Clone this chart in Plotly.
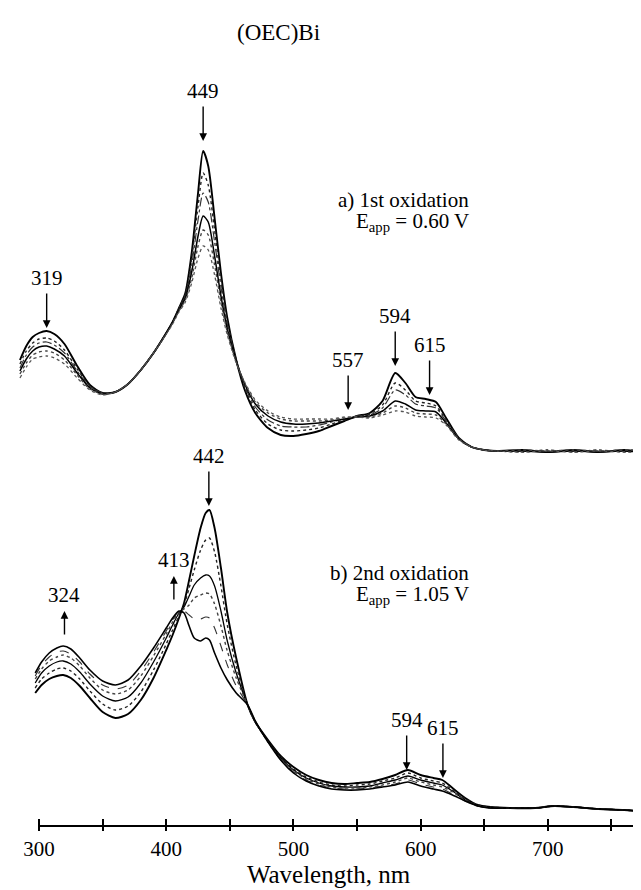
import plotly.graph_objects as go

# ---------------- data (relative absorbance, arbitrary units) ----------------
wl_a = [285, 290, 295, 300, 306, 312, 320, 330, 340, 350,
        360, 370, 380, 390, 400, 405, 410, 415, 420, 425,
        429, 433, 438, 443, 448, 455, 462, 470, 480, 490,
        500, 510, 520, 530, 540, 550, 560, 570, 580, 588,
        596, 604, 612, 620, 630, 640, 650, 660, 680, 700,
        720, 740, 760, 770]

a_1 = [108, 122, 131, 135, 137, 134, 124, 102, 83, 75,
       76, 84, 98, 115, 135, 146, 160, 175, 215, 275,
       317, 302, 250, 195, 150, 108, 77, 55, 40, 33,
       32, 34, 37, 42, 47, 52, 55, 67, 95, 85,
       71, 69, 66, 50, 30, 21, 18, 17, 18, 16,
       18, 16, 18, 17]
a_2 = [104, 117, 125, 129, 130, 127, 118, 99, 82, 75,
       76, 84, 98, 115, 135, 146, 160, 174, 210, 262,
       295, 283, 238, 188, 147, 108, 79, 58, 44, 38,
       37, 38, 40, 44, 48, 52, 54, 63, 85, 78,
       67, 65, 62, 48, 30, 21, 18, 17, 16, 18,
       16, 18, 16, 17]
a_3 = [100, 113, 121, 125, 126, 123, 115, 97, 81, 75,
       76, 84, 98, 115, 135, 146, 159, 172, 203, 248,
       275, 266, 226, 181, 144, 108, 81, 61, 48, 42,
       41, 41, 43, 46, 49, 52, 53, 60, 78, 73,
       64, 62, 60, 47, 30, 21, 18, 17, 17, 17,
       17, 17, 17, 17]
a_4 = [97, 109, 117, 121, 122, 119, 112, 95, 80, 74,
       76, 84, 98, 115, 135, 146, 158, 170, 196, 232,
       252, 246, 212, 172, 139, 107, 83, 64, 52, 46,
       44, 44, 45, 47, 49, 51, 52, 57, 67, 64,
       58, 57, 56, 45, 29, 21, 18, 17, 17, 16,
       17, 16, 17, 16]
a_5 = [94, 105, 113, 116, 117, 115, 108, 93, 79, 74,
       76, 84, 98, 115, 134, 145, 157, 168, 190, 222,
       238, 233, 203, 166, 136, 106, 84, 66, 55, 49,
       47, 47, 47, 48, 50, 51, 51, 55, 62, 60,
       55, 54, 53, 44, 29, 21, 18, 17, 18, 17,
       18, 17, 18, 18]
a_6 = [90, 101, 109, 111, 112, 110, 104, 90, 78, 73,
       76, 84, 98, 115, 134, 144, 156, 166, 185, 210,
       222, 218, 193, 160, 133, 105, 85, 68, 57, 51,
       49, 49, 49, 49, 51, 51, 50, 53, 57, 56,
       52, 51, 50, 43, 28, 21, 18, 17, 16, 17,
       16, 17, 16, 16]

wl_b = [297, 302, 308, 314, 319, 325, 332, 340, 350, 360,
        370, 380, 390, 400, 405, 410, 414, 418, 422, 427,
        431, 434, 438, 443, 448, 455, 464, 470, 480, 490,
        500, 510, 520, 530, 540, 550, 560, 570, 580, 590,
        600, 610, 617, 625, 635, 645, 655, 670, 690, 705,
        720, 740, 760, 780]

b_1 = [125, 133, 139, 142, 143, 140, 132, 120, 106, 100,
       104, 118, 140, 168, 183, 200, 215, 238, 262, 290,
       305, 308, 290, 250, 205, 160, 113, 96, 78, 62,
       51, 43, 38, 35, 34, 35, 36, 39, 43, 48,
       43, 40, 38, 30, 20, 13, 11, 10, 10, 12,
       11, 9, 8, 6]
b_2 = [130, 139, 145, 149, 150, 147, 139, 127, 114, 108,
       112, 126, 148, 174, 188, 202, 213, 230, 248, 268,
       278, 280, 266, 232, 193, 152, 113, 96, 77, 61,
       49, 41, 36, 33, 32, 33, 34, 37, 40, 45,
       40, 37, 35, 28, 19, 13, 11, 10, 10, 12,
       11, 9, 8, 6]
b_3 = [135, 145, 152, 156, 157, 154, 146, 134, 122, 117,
       121, 135, 156, 180, 193, 205, 211, 222, 233, 240,
       243, 242, 232, 207, 177, 145, 113, 96, 77, 60,
       48, 40, 35, 32, 31, 31, 32, 35, 38, 42,
       38, 35, 33, 27, 18, 12, 10, 10, 10, 12,
       11, 9, 8, 6]
b_4 = [139, 149, 157, 161, 163, 160, 152, 140, 128, 124,
       128, 142, 162, 184, 196, 206, 209, 213, 220, 223,
       225, 224, 214, 192, 167, 140, 113, 96, 76, 59,
       47, 39, 34, 31, 30, 30, 31, 33, 36, 40,
       36, 33, 31, 26, 18, 12, 10, 10, 10, 12,
       11, 9, 8, 6]
b_5 = [142, 153, 161, 166, 167, 164, 156, 144, 133, 129,
       133, 147, 166, 187, 198, 207, 207, 203, 199, 199,
       201, 200, 190, 172, 153, 132, 113, 96, 76, 58,
       46, 38, 33, 30, 29, 29, 30, 32, 34, 38,
       34, 31, 29, 24, 17, 12, 10, 10, 10, 12,
       11, 9, 8, 6]
b_6 = [145, 156, 165, 170, 172, 169, 160, 148, 137, 133,
       138, 152, 170, 190, 200, 207, 205, 192, 180, 177,
       180, 178, 165, 150, 138, 125, 113, 97, 76, 58,
       45, 37, 32, 29, 28, 28, 29, 31, 33, 36,
       32, 29, 27, 23, 17, 12, 10, 10, 10, 12,
       11, 9, 8, 6]

tick_vals = [300, 350, 400, 450, 500, 550, 600, 650, 700, 750]
tick_text = ["300", "", "400", "", "500", "", "600", "", "700", ""]

# peak labels: (text, wavelength of arrow, arrow tip value, direction)
labels_a = [("319", 306, 140, "down"), ("449", 429, 327, "down"),
            ("557", 543, 58, "down"), ("594", 580, 102, "down"),
            ("615", 607, 73, "down")]
labels_b = [("324", 320, 207, "up"), ("413", 406, 242, "up"),
            ("442", 433.5, 312, "down"), ("594", 589, 48, "down"),
            ("615", 617.5, 40, "down")]

# ---------------- figure ----------------
FONT = "Liberation Serif, Times New Roman, serif"
fig = go.Figure()

styles_a = [("solid", 1.9, "#000"), ("dot", 1.4, "#222"), ("dashdot", 1.2, "#333"),
            ("solid", 1.5, "#000"), ("dot", 1.4, "#444"), ("dot", 1.3, "#555")]
for ys, (dash, w, c) in zip([a_1, a_2, a_3, a_4, a_5, a_6], styles_a):
    fig.add_trace(go.Scatter(x=wl_a, y=ys, mode="lines", yaxis="y2",
                             line=dict(color=c, width=w, dash=dash, shape="spline", smoothing=0.7),
                             showlegend=False, hoverinfo="skip"))

styles_b = [("solid", 1.9, "#000"), ("dot", 1.4, "#222"), ("solid", 1.3, "#000"),
            ("dot", 1.4, "#444"), ("dash", 1.1, "#333"), ("solid", 1.6, "#000")]
for ys, (dash, w, c) in zip([b_1, b_2, b_3, b_4, b_5, b_6], styles_b):
    fig.add_trace(go.Scatter(x=wl_b, y=ys, mode="lines", yaxis="y",
                             line=dict(color=c, width=w, dash=dash, shape="spline", smoothing=0.7),
                             showlegend=False, hoverinfo="skip"))

XMIN, XMAX = 275.6, 779.5
fig.update_layout(
    width=641, height=890,
    margin=dict(l=0, r=0, t=0, b=72),
    paper_bgcolor="white", plot_bgcolor="white",
    font=dict(family=FONT, color="black", size=21),
    xaxis=dict(range=[XMIN, XMAX], showgrid=False, zeroline=False, showline=False,
               tickmode="array", tickvals=tick_vals, ticktext=tick_text,
               ticks="outside", ticklen=12, tickwidth=2, tickcolor="black",
               tickfont=dict(family=FONT, size=21, color="black"),
               title=dict(text="Wavelength, nm", font=dict(family=FONT, size=25), standoff=4)),
    yaxis=dict(domain=[8 / 818, 358 / 818], range=[0, 350], visible=False),
    yaxis2=dict(domain=[358 / 818, 718 / 818], range=[0, 360], visible=False),
)

# axis line starting at 300 nm
fig.add_shape(type="line", xref="x", yref="paper", x0=300, x1=XMAX, y0=0, y1=0,
              line=dict(color="black", width=2))

def add_label(text, wl, tip, direction, yref):
    if direction == "down":
        fig.add_annotation(x=wl, y=tip, xref="x", yref=yref, text="", showarrow=True,
                           ax=0, ay=-36, arrowhead=2, arrowsize=1.1, arrowwidth=1.4,
                           arrowcolor="black")
        fig.add_annotation(x=wl, y=tip, xref="x", yref=yref, text=text, showarrow=False,
                           yshift=50, font=dict(family=FONT, size=21))
    else:
        fig.add_annotation(x=wl, y=tip, xref="x", yref=yref, text="", showarrow=True,
                           ax=0, ay=25, arrowhead=2, arrowsize=1.1, arrowwidth=1.4,
                           arrowcolor="black")
        fig.add_annotation(x=wl, y=tip, xref="x", yref=yref, text=text, showarrow=False,
                           yshift=16, font=dict(family=FONT, size=21))

for t, w, tip, d in labels_a:
    add_label(t, w, tip, d, "y2")
for t, w, tip, d in labels_b:
    add_label(t, w, tip, d, "y")

def ptext(text, px, py, anchor="right", size=21):
    fig.add_annotation(x=px / 641, y=(818 - py) / 818, xref="paper", yref="paper",
                       text=text, showarrow=False, xanchor=anchor, yanchor="middle",
                       font=dict(family=FONT, size=size))

ptext("(OEC)Bi", 270, 25, anchor="center", size=23)
ptext("a) 1st oxidation", 463, 192)
ptext("E<sub>app</sub> = 0.60 V", 463, 214)
ptext("b) 2nd oxidation", 463, 565)
ptext("E<sub>app</sub> = 1.05 V", 463, 587)

fig.write_html("out.html")
